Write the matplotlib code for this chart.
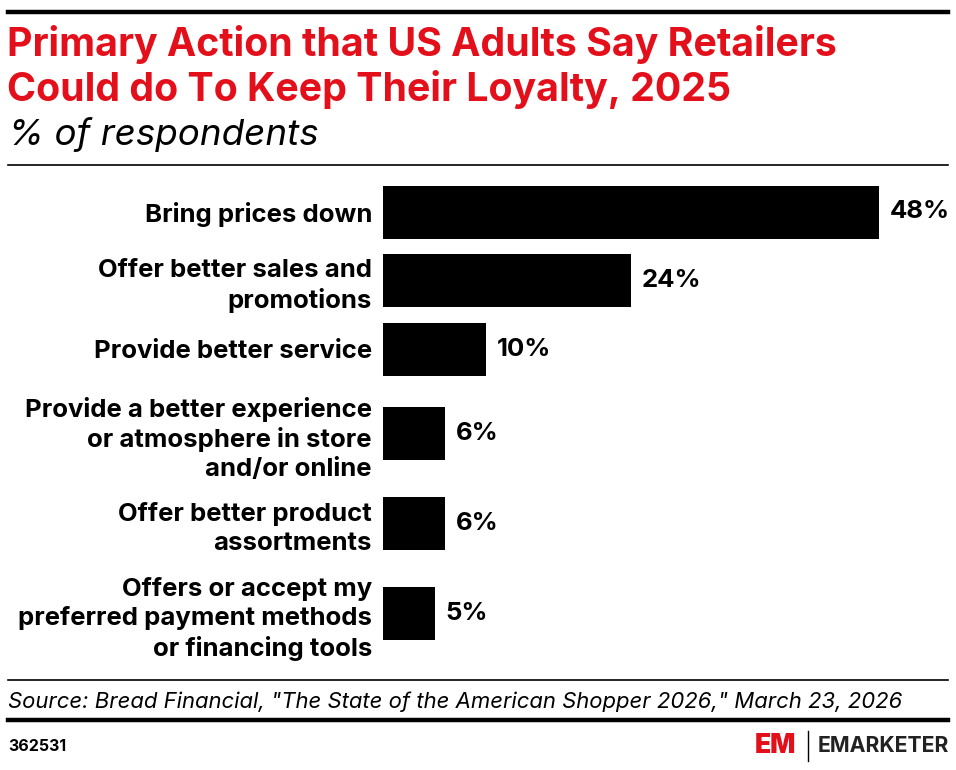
#!/usr/bin/env python3
"""Retailer loyalty actions bar chart."""

import matplotlib
matplotlib.use("Agg")
import matplotlib.pyplot as plt
from matplotlib.lines import Line2D

categories = [
    "Bring prices down",
    "Offer better sales and\npromotions",
    "Provide better service",
    "Provide a better experience\nor atmosphere in store\nand/or online",
    "Offer better product\nassortments",
    "Offers or accept my\npreferred payment methods\nor financing tools",
]
values = [48, 24, 10, 6, 6, 5]

RED = "#E3101B"
W, H = 956, 770

plt.rcParams["font.family"] = ["Inter", "DejaVu Sans"]

fig = plt.figure(figsize=(W / 100, H / 100), dpi=100)


def px(x, y):
    """figure fraction from pixel coords (top-left origin)"""
    return x / W, 1 - y / H


def hline(y, x0=8, x1=948, lw=1.0):
    fig.add_artist(Line2D([x0 / W, x1 / W], [1 - y / H, 1 - y / H],
                          color="black", lw=lw, transform=fig.transFigure))


# header
hline(11.5, lw=3.2)
fig.text(*px(7, 56), "Primary Action that US Adults Say Retailers",
         color=RED, fontsize=28.3, fontweight="bold", va="baseline", ha="left")
fig.text(*px(7, 101), "Could do To Keep Their Loyalty, 2025",
         color=RED, fontsize=28.3, fontweight="bold", va="baseline", ha="left")
fig.text(*px(8, 145), "% of respondents", fontsize=26.5, style="italic", va="baseline", ha="left")
hline(165, lw=1.2)

# slot heights from the number of label lines
slots = []
for c in categories:
    n = c.count("\n") + 1
    slots.append(max(53, 32 * n) + 10)
centers = []
acc = 0
for s in slots:
    centers.append(acc + s / 2)
    acc += s

# bar axes: first bar centred at y=212px
top_px = 212 - slots[0] / 2
ax = fig.add_axes([383 / W, 1 - (top_px + acc) / H, (946 - 383) / W, acc / H])
ax.barh(centers, values, height=53, color="black")
ax.set_ylim(acc, 0)
ax.set_xlim(0, 48 * 563 / 496)
ax.set_yticks(centers)
ax.set_yticklabels(categories, fontsize=18.5, fontweight="bold", linespacing=1.3)
ax.tick_params(axis="y", length=0, pad=8)
ax.set_xticks([])
for sp in ax.spines.values():
    sp.set_visible(False)
for yc, v in zip(centers, values):
    ax.annotate(f"{v}%", (v, yc), xytext=(7.5, 0), textcoords="offset points",
                va="center", ha="left", fontsize=18.5, fontweight="bold")

# footer
hline(680, lw=1.2)
fig.text(*px(8, 708), 'Source: Bread Financial, "The State of the American Shopper 2026," March 23, 2026',
         fontsize=15.9, style="italic", va="baseline", ha="left")
hline(720, lw=3.2)
fig.text(*px(8, 751), "362531", fontsize=11.5, fontweight="bold", va="baseline", ha="left")
fig.text(*px(755, 746), "EM", color=RED, fontsize=19, fontweight="black", va="center", ha="left")
fig.add_artist(Line2D([808 / W, 808 / W], [1 - 731 / H, 1 - 761 / H], color="black", lw=1,
                      transform=fig.transFigure))
fig.text(*px(818, 746), "EMARKETER", fontsize=15.3, fontweight="bold", va="center", ha="left",
         color="#222222")

fig.savefig("out.png", dpi=100)
